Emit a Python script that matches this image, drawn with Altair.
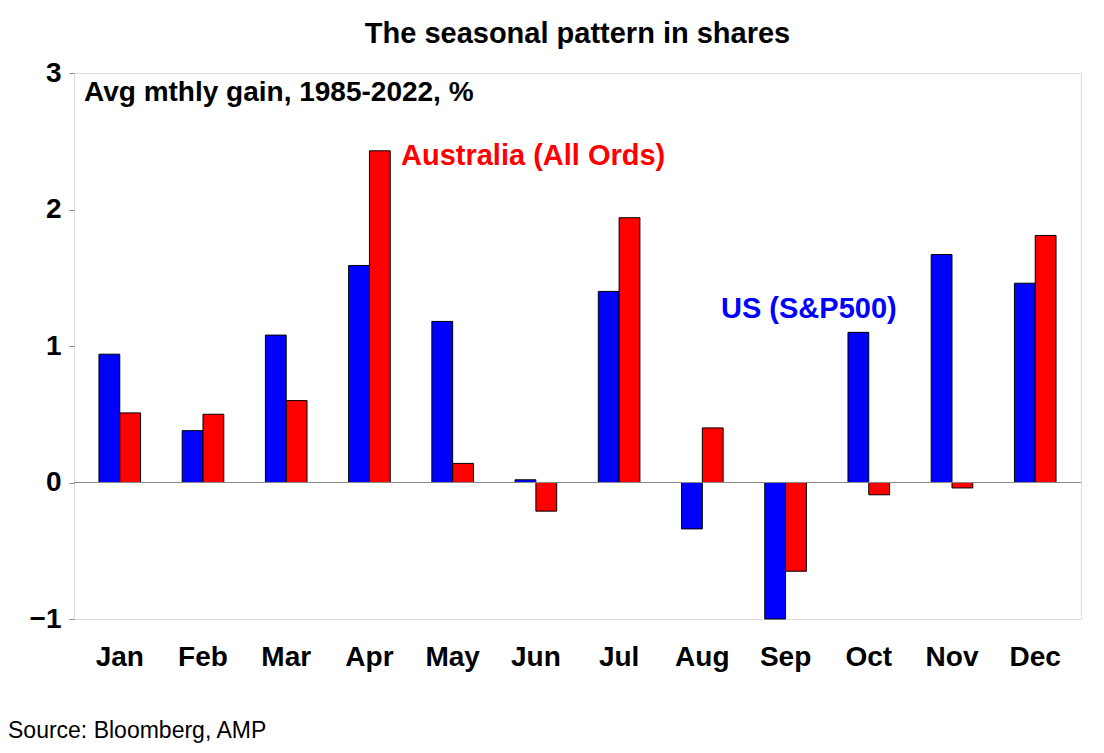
import pandas as pd
import altair as alt

months = ["Jan", "Feb", "Mar", "Apr", "May", "Jun", "Jul", "Aug", "Sep", "Oct", "Nov", "Dec"]
us_sp500 = [0.94, 0.38, 1.08, 1.59, 1.18, 0.02, 1.40, -0.34, -1.0, 1.10, 1.67, 1.46]
aus_allords = [0.51, 0.50, 0.60, 2.43, 0.14, -0.21, 1.94, 0.40, -0.65, -0.09, -0.04, 1.81]

FONT = "Liberation Sans"

data = pd.concat([
    pd.DataFrame({"month": months, "series": "US", "value": us_sp500}),
    pd.DataFrame({"month": months, "series": "AU", "value": aus_allords}),
])

bars = (
    alt.Chart(data)
    .mark_bar(stroke="black", strokeWidth=1)
    .encode(
        x=alt.X("month:N", sort=months, title=None,
                scale=alt.Scale(paddingInner=0.5, paddingOuter=0.3),
                axis=alt.Axis(labelAngle=0, labelFontSize=28, labelFontWeight="bold",
                              labelColor="black", labelFont=FONT, ticks=False,
                              domain=False, labelPadding=24)),
        xOffset=alt.XOffset("series:N", sort=["US", "AU"]),
        y=alt.Y("value:Q", title=None,
                scale=alt.Scale(domain=[-1, 3], nice=False),
                axis=alt.Axis(values=[-1, 0, 1, 2, 3], format="d", grid=False, domain=False,
                              labelFontSize=28, labelFontWeight="bold", labelColor="black",
                              labelFont=FONT, tickColor="#888", tickSize=5, labelPadding=8)),
        color=alt.Color("series:N", legend=None,
                        scale=alt.Scale(domain=["US", "AU"], range=["#0000ff", "#ff0000"])),
    )
)

zero = alt.Chart(pd.DataFrame({"v": [0]})).mark_rule(color="#888", strokeWidth=1).encode(y="v:Q")


def label(txt, x, y, color, size=28, weight="bold"):
    return alt.Chart(pd.DataFrame({"t": [txt]})).mark_text(
        align="left", baseline="middle", font=FONT, fontSize=size,
        fontWeight=weight, color=color
    ).encode(x=alt.value(x), y=alt.value(y), text="t:N")


chart = (
    alt.layer(
        bars, zero,
        label("Avg mthly gain, 1985-2022, %", 10, 20, "black", 28),
        label("Australia (All Ords)", 327, 83, "#ff0000", 29),
        label("US (S&P500)", 647, 236, "#0000ff", 29),
        label("Source: Bloomberg, AMP", -66, 658, "black", 23, "normal"),
    )
    .properties(
        width=1007, height=546,
        title=alt.TitleParams("The seasonal pattern in shares", font=FONT, fontSize=29,
                              fontWeight="bold", color="black", offset=10),
    )
    .configure_view(stroke="#888", strokeWidth=1)
    .configure(background="white", padding={"left": 0, "top": 12, "right": 0, "bottom": 0})
)

chart.save("out.html", embed_options={"renderer": "svg", "actions": False})
